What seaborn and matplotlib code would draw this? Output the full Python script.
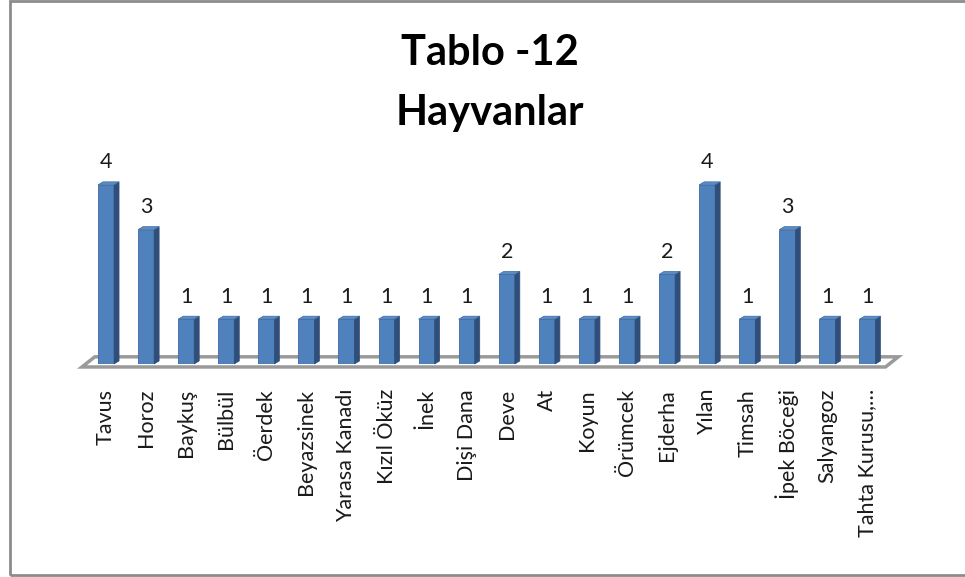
import numpy as np
import pandas as pd
import matplotlib
matplotlib.use("Agg")
import matplotlib.pyplot as plt
from matplotlib.patches import Polygon, Rectangle
import seaborn as sns

# veri
hayvanlar = ["Tavus", "Horoz", "Baykuş", "Bülbül", "Öerdek", "Beyazsinek",
             "Yarasa Kanadı", "Kızıl Öküz", "İnek", "Dişi Dana", "Deve", "At",
             "Koyun", "Örümcek", "Ejderha", "Yılan", "Timsah", "İpek Böceği",
             "Salyangoz", "Tahta Kurusu,…"]
adet = [4, 3, 1, 1, 1, 1, 1, 1, 1, 1, 2, 1, 1, 1, 2, 4, 1, 3, 1, 1]

df = pd.DataFrame({"Hayvan": hayvanlar, "Adet": adet})

sns.set_style("white")
plt.rcParams["font.family"] = ["Lato", "DejaVu Sans"]

fig = plt.figure(figsize=(9.65, 5.77), dpi=100)
ax = fig.add_axes([0.0891, 0.3692, 0.8306, 0.357])

on = "#4F81BD"
yan = "#2F4F7A"
ust = "#5B8CC6"
sns.barplot(data=df, x="Hayvan", y="Adet", color=on, width=0.4,
            saturation=1, ax=ax, zorder=3)

ax.set_xlim(-0.5, len(hayvanlar) - 0.5)
ax.set_ylim(0, 4.6)

# derinlik (veri birimi)
dx, dy = 0.125, 0.067

# zemin
x0, x1 = ax.get_xlim()
zemin = Polygon([(x0 - 0.1, -0.067), (x1 - 0.05, -0.067),
                 (x1 + 0.27, 0.16), (x0 + 0.22, 0.16)],
                closed=True, facecolor="white", edgecolor="#9a9a9a",
                lw=2.5, clip_on=False, zorder=1)
ax.add_patch(zemin)

# 3B yan ve üst yüzler
for p in ax.patches[:len(adet)]:
    xl = p.get_x()
    w = p.get_width()
    h = p.get_height()
    xr = xl + w
    p.set_edgecolor("#3d6aa0")
    p.set_linewidth(0.6)
    ax.add_patch(Polygon([(xr, 0), (xr + dx, dy), (xr + dx, h + dy), (xr, h)],
                         closed=True, facecolor=yan, edgecolor=yan, lw=0.5,
                         zorder=3, clip_on=False))
    ax.add_patch(Polygon([(xl, h), (xl + dx, h + dy), (xr + dx, h + dy), (xr, h)],
                         closed=True, facecolor=ust, edgecolor="#3d6aa0", lw=0.5,
                         zorder=3, clip_on=False))

for i, v in enumerate(adet):
    ax.annotate(str(v), (i, v), xytext=(0, 12), textcoords="offset points",
                ha="center", va="baseline", fontsize=15.5, color="#1a1a1a")

ax.set_xlabel("")
ax.set_ylabel("")
ax.set_yticks([])
ax.tick_params(axis="x", length=0, pad=18, labelsize=15.5, labelcolor="#1a1a1a")
plt.setp(ax.get_xticklabels(), rotation=90)
sns.despine(ax=ax, left=True, bottom=True)

# başlık
fig.text(0.508, 1 - 65 / 577, "Tablo -12", ha="center", va="baseline",
         fontsize=30, fontweight="bold", color="black")
fig.text(0.508, 1 - 125 / 577, "Hayvanlar", ha="center", va="baseline",
         fontsize=30, fontweight="bold", color="black")

# çerçeve
fig.add_artist(Rectangle((10 / 965, 2 / 577), 1.0, 1.0 - 3 / 577,
                         transform=fig.transFigure, fill=False,
                         edgecolor="#8c8c8c", lw=2))

fig.savefig("out.png", dpi=100)
